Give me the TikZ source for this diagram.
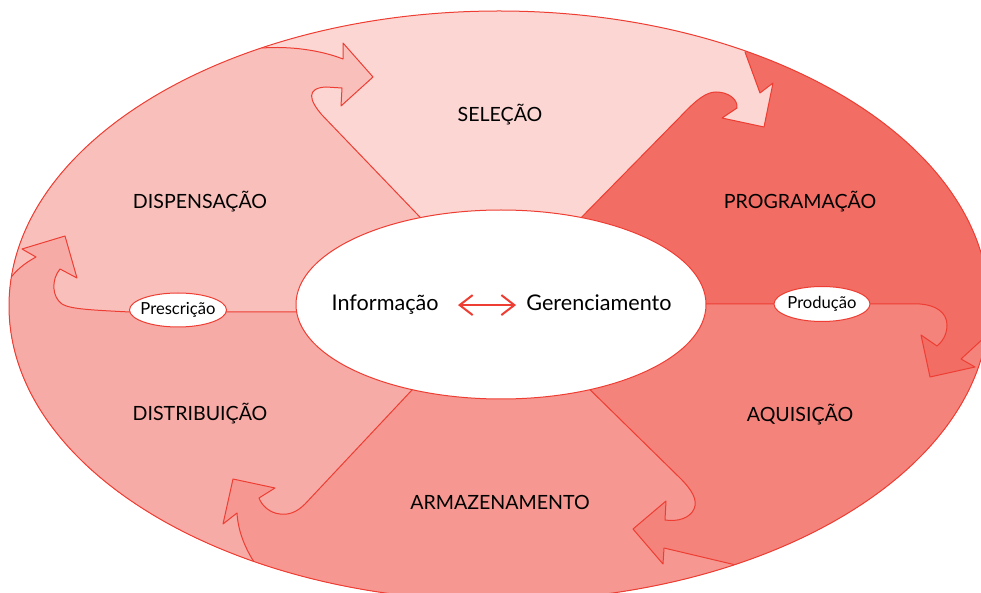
\documentclass[tikz,border=0pt]{standalone}
\usepackage{fontspec}
\setmainfont{Lato}
\usetikzlibrary{arrows.meta}
\definecolor{vermelho}{HTML}{EE3D32}
\definecolor{corSel}{HTML}{FBD6D3}
\definecolor{corProg}{HTML}{F26D64}
\definecolor{corAqui}{HTML}{F4837C}
\definecolor{corArmaz}{HTML}{F69891}
\definecolor{corDistr}{HTML}{F7ABA6}
\definecolor{corDisp}{HTML}{F9C0BB}
% bordas entre os setores, de dentro para fora (com a seta)
\def\bordaA{(440,238) -- (322,115) .. controls (309,100) and (306,88) .. (326,87) -- (342,88) -- (341,106) -- (373,77) -- (343,43) -- (343,59) .. controls (320,50) and (290,46) .. (262,48)}
\def\bordaB{(570,229) -- (680,117) .. controls (696,100) and (706,92) .. (716,92) .. controls (728,92) and (738,99) .. (737,108) -- (722,118) -- (764,127) -- (773,83) -- (760,93) -- (745,52)}
\def\bordaC{(690,304) -- (920,304) .. controls (935,305) and (947,312) .. (947,325) .. controls (947,335) and (942,342) .. (937,346) -- (921,335) -- (930,377) -- (975,367) -- (961,359) -- (986,336)}
\def\bordaD{(575,375) -- (680,478) .. controls (692,490) and (698,500) .. (694,509) .. controls (690,518) and (678,522) .. (665,520) -- (666,501) -- (633,529) -- (663,564) -- (664,548) -- (740,566)}
\def\bordaE{(427,374) -- (305,504) .. controls (296,513) and (288,515) .. (280,514) .. controls (270,513) and (262,506) .. (259,498) -- (275,488) -- (233,479) -- (223,524) -- (237,513) .. controls (238,530) and (244,546) .. (254,562)}
\def\bordaF{(310,312) -- (130,312) .. controls (90,310) and (70,309) .. (62,304) .. controls (52,297) and (51,280) .. (60,269) -- (77,278) -- (65,236) -- (22,249) -- (36,257) .. controls (25,263) and (16,270) .. (9,280)}
\begin{document}
\begin{tikzpicture}[line cap=round,line join=round,>={Straight Barb[length=6.5pt,width=10pt]},x=0.5pt,y=-0.5pt,
	borda/.style={draw=vermelho,line width=0.5pt},
	rotulo/.style={font=\fontsize{9.8}{11}\selectfont},
	maior/.style={font=\fontsize{10.8}{12}\selectfont},
	menor/.style={font=\fontsize{8.3}{10}\selectfont}]
	\useasboundingbox (0,0) rectangle (981,593);
	% Pintar os setores dentro da elipse grande
	\begin{scope}
		\clip (499,306) ellipse [x radius=245pt,y radius=147.5pt]; %cortar pela elipse
		\fill[corDisp] (0,0) rectangle (981,593); %fundo
		\fill[corSel] \bordaA -- (262,-300) -- (1500,-300) -- (1500,900) -- (-500,900) -- (-700,-160) -- (500,305) -- cycle;
		\fill[corProg] \bordaB -- (745,-300) -- (1500,-300) -- (1500,900) -- (-500,900) -- (-700,-160) -- (500,305) -- cycle;
		\fill[corAqui] \bordaC -- (1500,336) -- (1500,900) -- (-500,900) -- (-700,-160) -- (500,305) -- cycle;
		\fill[corArmaz] \bordaD -- (740,900) -- (-500,900) -- (-700,-160) -- (500,305) -- cycle;
		\fill[corDistr] \bordaE -- (254,900) -- (-500,900) -- (-700,-160) -- (500,305) -- cycle;
		\fill[corDisp] \bordaF -- (-500,280) -- (-700,-445) -- (500,305) -- cycle;
		% Contornos das setas
		\foreach \b in {\bordaA,\bordaB,\bordaC,\bordaD,\bordaE,\bordaF}
		\draw[borda] \b;
	\end{scope}
	\draw[borda] (499,306) ellipse [x radius=245pt,y radius=147.5pt]; %elipse externa
	\filldraw[borda,fill=white] (501,304.5) ellipse [x radius=102.5pt,y radius=47.25pt]; %elipse central
	\filldraw[borda,fill=white] (178,310) ellipse [x radius=24.25pt,y radius=8.5pt];
	\filldraw[borda,fill=white] (822,304) ellipse [x radius=24pt,y radius=8.75pt];
	% Nomes dos setores
	\node[rotulo] (sel) at (500,115) {SELEÇÃO};
	\node[rotulo] (prog) at (800,202) {PROGRAMAÇÃO};
	\node[rotulo] (aqui) at (800,415) {AQUISIÇÃO};
	\node[rotulo] (armaz) at (500,502) {ARMAZENAMENTO};
	\node[rotulo] (distr) at (200,414) {DISTRIBUIÇÃO};
	\node[rotulo] (disp) at (200,202) {DISPENSAÇÃO};
	\node[menor] (presc) at (178,310) {Prescrição};
	\node[menor] (prod) at (822,304) {Produção};
	% Centro
	\node[maior,anchor=base east,inner sep=0pt] (info) at (439,311) {Informação};
	\node[maior,anchor=base west,inner sep=0pt] (geren) at (526,311) {Gerenciamento};
	\draw[<->,draw=vermelho,line width=1pt,shorten <=9.5pt,shorten >=5pt] (info.east) -- (info.east -| geren.west);
\end{tikzpicture}
\end{document}
